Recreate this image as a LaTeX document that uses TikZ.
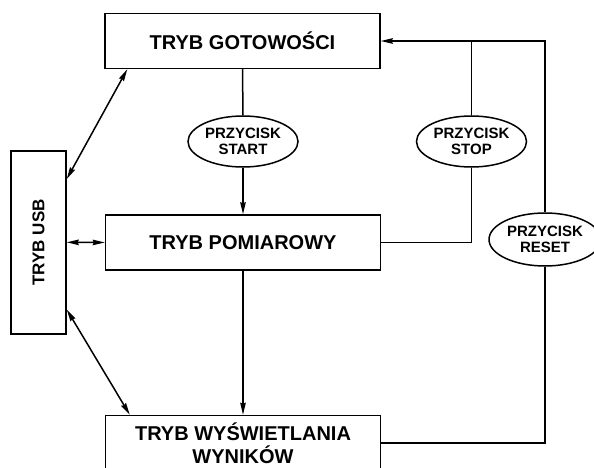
\documentclass[tikz,border=0pt]{standalone}
\usepackage{fontspec}
\setmainfont{Liberation Sans}
\usetikzlibrary{arrows.meta,shapes.geometric}

\begin{document}
\begin{tikzpicture}[x=1pt,y=-1pt,line width=1.5pt,
  modebox/.style={draw,rectangle,inner sep=0pt,minimum width=275pt,minimum height=55pt,
    align=center,font=\bfseries\fontsize{20}{23}\selectfont},
  button/.style={draw,ellipse,inner sep=0pt,minimum width=110pt,minimum height=51pt,
    align=center,font=\bfseries\fontsize{15}{16}\selectfont},
  tip/.tip={Stealth[length=12pt,width=5.5pt,inset=1pt]},
  arr/.style={-tip},
  darr/.style={tip-tip}]
\useasboundingbox (0,0) rectangle (594,468);
\clip (0,0) rectangle (594,468);

% operating modes
\node[modebox] (got) at (242.5,41) {TRYB GOTOWOŚCI};
\node[modebox] (pom) at (243,242.5) {TRYB POMIAROWY};
\node[modebox] (wys) at (243,443) {TRYB WYŚWIETLANIA\\WYNIKÓW};
\node[draw,rectangle,inner sep=0pt,minimum width=55pt,minimum height=183pt] (usb) at (38.5,242.3) {};
\node[rotate=90,font=\bfseries\fontsize{17}{20}\selectfont] (usbtxt) at (usb.center) {TRYB USB};

% buttons
\node[button] (start) at (243,141.5) {PRZYCISK\\START};
\node[button] (stop) at (471.5,141.5) {PRZYCISK\\STOP};
\node[button,minimum height=53pt,minimum width=112pt] (reset) at (545,239.5) {PRZYCISK\\RESET};

% transitions through the buttons
\draw (got.south) -- (start.north);
\draw[arr] (start.south) -- (pom.north);
\draw[arr] (pom.south) -- (wys.north);
\draw (pom.east) -- (stop.south |- pom.east) -- (stop.south);
\draw (stop.north) -- (stop.north |- got.east);
\draw (wys.east) -- (reset.south |- wys.east) -- (reset.south);
\draw[arr] (reset.north) -- (reset.north |- got.east) -- (got.east);

% USB links
\coordinate (u1) at ([yshift=-29pt]usb.north east);
\coordinate (g1) at ([xshift=23pt]got.south west);
\coordinate (u3) at ([yshift=25pt]usb.south east);
\coordinate (w1) at ([xshift=25pt]wys.north west);
\draw[darr] (u1) -- (g1);
\draw[darr] (usb.east) -- (pom.west);
\draw[darr] (u3) -- (w1);
\end{tikzpicture}
\end{document}
